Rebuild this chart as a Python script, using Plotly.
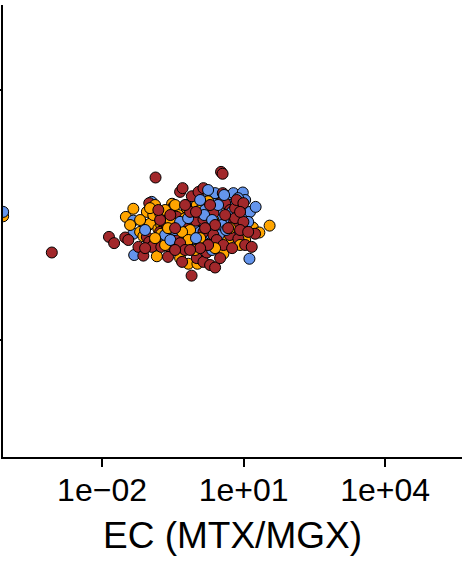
import plotly.graph_objects as go

# EC (MTX/MGX) values and y values per group
blue_x = [8e-05, 0.046, 0.046, 0.048, 0.113, 0.143, 0.530, 0.575, 0.625, 0.625,
          0.735, 0.735, 0.80, 0.863, 0.938, 1.20, 1.20, 1.41, 1.66, 1.95,
          1.95, 2.29, 2.49, 2.49, 2.92, 3.18, 3.18, 4.41, 4.41, 6.08,
          8.43, 9.16, 9.62, 11.7, 13.3, 13.7, 18.0, 1.53, 4.70, 1.09,
          6.93, 0.353, 2.15, 0.451, 5.18, 10.8, 1.77, 3.50, 0.217,
          7.66, 3.86, 5.71, 12.5, 1.46, 0.98, 2.88, 2.15, 0.667, 0.28,
          0.0817, 4.26, 1.20]
blue_y = [0.05, -0.09, -0.30, -0.64, 0.21, -0.51, 0.00, -0.16, 0.16, -0.24,
          0.08, -0.40, 0.21, -0.16, 0.16, -0.08, -0.27, -0.32, 0.24, -0.19,
          -0.30, 0.29, 0.35, -0.40, -0.37, 0.00, -0.32, 0.24, -0.51, 0.35,
          -0.19, 0.03, 0.36, 0.00, -0.70, 0.05, 0.13, 0.08, -0.08, -0.48,
          -0.27, -0.24, -0.56, -0.11, 0.16, 0.24, 0.40, -0.16, -0.32,
          0.27, 0.32, 0.05, -0.11, 0.00, -0.37, 0.16, -0.08, -0.05, -0.40,
          -0.24, -0.24, 0.24]

orange_x = [8e-05, 0.032, 0.046, 0.064, 0.075, 0.089, 0.096, 0.104, 0.122, 0.145,
            0.156, 0.170, 0.18, 0.18, 0.25, 0.305, 0.325, 0.384, 0.403, 0.415,
            0.530, 0.625, 0.575, 0.676, 0.863, 1.02, 1.05, 1.20, 1.77, 2.29,
            3.73, 6.61, 10.8, 15.7, 21.6, 35.6, 0.217, 0.133, 0.735, 0.28,
            1.53, 0.064, 0.497, 4.70, 0.938,
            0.0393, 0.104, 0.217, 0.353, 0.25, 0.133, 0.676, 1.20, 0.451, 2.49,
            8.43, 5.18]
orange_y = [-0.02, -0.03, 0.10, -0.27, -0.34, 0.05, -0.16, -0.14, 0.00, -0.66,
            -0.22, 0.03, -0.16, -0.30, -0.32, 0.18, -0.38, -0.19, -0.40, 0.00,
            -0.54, 0.11, -0.05, -0.78, 0.00, 0.16, -0.78, 0.08, 0.22, -0.08,
            -0.62, -0.24, -0.40, -0.20, -0.28, -0.17, -0.48, 0.16, -0.24, -0.08,
            -0.48, -0.08, -0.27, -0.40, -0.56,
            -0.16, 0.11, 0.08, 0.16, -0.21, -0.37, -0.40, -0.37, -0.69, -0.53,
            -0.48, -0.21]

red_x = [0.00086, 0.014, 0.018, 0.031, 0.036, 0.059, 0.075, 0.089, 0.10, 0.133,
         0.113, 0.10, 0.136, 0.170, 0.18, 0.24, 0.28, 0.25, 0.24, 0.325,
         0.384, 0.415, 0.451, 0.509, 0.625, 0.625, 0.80, 0.80, 0.79, 0.97,
         1.02, 1.02, 1.11, 1.41, 1.41, 1.41, 1.41, 1.66, 1.95, 2.29,
         2.29, 2.49, 2.70, 3.18, 3.33, 3.59, 3.62, 4.06, 3.73, 5.11,
         5.18, 6.30, 6.61, 6.61, 7.11, 7.76, 9.91, 9.91, 10.8, 14.9,
         17.5, 0.451, 0.575, 0.353, 1.77, 4.70, 8.43, 0.170, 0.735, 2.49,
         1.20, 0.497, 8.43,
         0.156, 0.28, 0.575, 0.98, 1.95, 1.53, 4.06, 5.71, 0.0817, 0.735,
         3.18, 12.5, 0.353]
red_y = [-0.60, -0.35, -0.45, -0.36, -0.40, -0.51, -0.65, -0.35, -0.43, -0.43,
         -0.51, 0.19, 0.60, -0.27, -0.51, -0.43, -0.53, -0.67, -0.19, 0.13,
         -0.03, -0.38, 0.37, 0.43, -0.19, -0.27, 0.30, -0.37, -0.97, -0.09,
         -0.43, -0.69, 0.37, 0.43, -0.07, -0.27, -0.75, -0.60, -0.80, 0.03,
         -0.32, -0.84, -0.40, 0.19, 0.69, 0.66, 0.35, 0.19, -0.48, -0.32,
         0.08, -0.11, 0.11, -0.05, 0.24, -0.38, 0.19, -0.11, -0.48, -0.51,
         -0.30, -0.45, -0.56, -0.21, -0.48, -0.21, -0.24, -0.08, 0.05, -0.16,
         -0.53, -0.75, 0.05,
         0.08, 0.00, 0.16, 0.05, 0.16, -0.21, 0.00, -0.53, -0.53, -0.56,
         -0.69, -0.27, -0.56]

x_tickvals = [1e-02, 1e+01, 1e+04]
x_ticktext = ["1e\u221202", "1e+01", "1e+04"]
y_tickvals = [-2, 2]

series = [
    (red_x, red_y, "#A2282B"),
    (orange_x, orange_y, "#FFA500"),
    (blue_x, blue_y, "#6495ED"),
]

# interleave groups so the overlap mixes like the original
xs, ys, cs = [], [], []
n = max(len(s[0]) for s in series)
for i in range(n):
    for sx, sy, col in series:
        if i < len(sx):
            xs.append(sx[i])
            ys.append(sy[i])
            cs.append(col)

fig = go.Figure(go.Scatter(
    x=xs, y=ys, mode="markers",
    marker=dict(size=11, color=cs, line=dict(color="black", width=1)),
    showlegend=False, hoverinfo="x+y",
))

font_family = "Liberation Sans, Arial, sans-serif"
fig.update_layout(
    width=467, height=564,
    margin=dict(l=3, r=5, t=5, b=107, autoexpand=False),
    plot_bgcolor="white", paper_bgcolor="white",
    font=dict(family=font_family, color="black"),
    xaxis=dict(
        type="log", range=[-4.1, 5.63], automargin=False,
        tickvals=x_tickvals, ticktext=x_ticktext,
        ticks="outside", ticklen=8, tickwidth=2, tickcolor="black",
        ticklabelstandoff=-4,
        showline=True, linecolor="black", linewidth=2,
        showgrid=False, zeroline=False,
        tickfont=dict(size=32, color="black", family=font_family),
        title=dict(text="EC (MTX/MGX)", font=dict(size=37, color="black", family=font_family), standoff=15),
    ),
    yaxis=dict(
        range=[-3.872, 3.36], automargin=False,
        tickvals=y_tickvals, showticklabels=False,
        ticks="outside", ticklen=8, tickwidth=2, tickcolor="black",
        showline=True, linecolor="black", linewidth=2,
        showgrid=False, zeroline=False,
    ),
)

fig.write_html(
    "out.html",
    config={"displayModeBar": False},
    post_script="document.body.style.margin='0';document.body.style.padding='0';",
)
